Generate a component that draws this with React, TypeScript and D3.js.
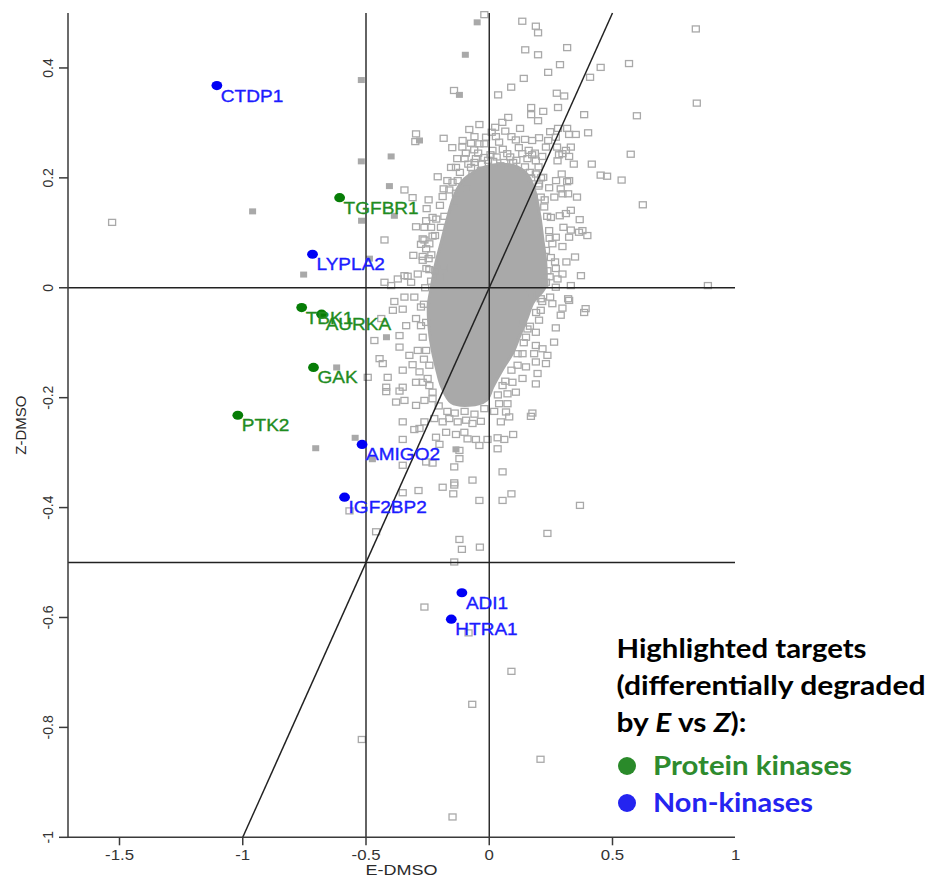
import React from "react";
import * as d3 from "d3";

// ---------- data (E-DMSO, Z-DMSO) ----------
const xTicks = [-1.5, -1, -0.5, 0, 0.5];
const xTickLabels = [
  { v: -1.5, t: "-1.5" },
  { v: -1, t: "-1" },
  { v: -0.5, t: "-0.5" },
  { v: 0, t: "0" },
  { v: 0.5, t: "0.5" },
  { v: 1, t: "1" },
];
const yTicks = [0.4, 0.2, 0, -0.2, -0.4, -0.6, -0.8, -1];
const yTickLabels = ["0.4", "0.2", "0", "-0.2", "-0.4", "-0.6", "-0.8", "-1"];
const hRefs = [0, -0.5];
const vRefs = [-0.5, 0];
const diagonal: [number, number][] = [[-1, -1], [0.5, 0.5]];

const kinases = [
  { name: "TGFBR1", e: -0.607, z: 0.164 },
  { name: "TBK1", e: -0.761, z: -0.036 },
  { name: "AURKA", e: -0.68, z: -0.048 },
  { name: "GAK", e: -0.713, z: -0.145 },
  { name: "PTK2", e: -1.02, z: -0.232 },
];
const nonKinases = [
  { name: "CTDP1", e: -1.105, z: 0.368 },
  { name: "LYPLA2", e: -0.717, z: 0.061 },
  { name: "AMIGO2", e: -0.516, z: -0.285 },
  { name: "IGF2BP2", e: -0.587, z: -0.381 },
  { name: "ADI1", e: -0.111, z: -0.555 },
  { name: "HTRA1", e: -0.154, z: -0.603 },
];

const filledSquares: [number, number][] = [
  [-0.96, 0.139], [-0.753, 0.024], [-0.519, 0.378], [-0.519, 0.23], [-0.398, 0.239],
  [-0.405, 0.185], [-0.385, 0.131], [-0.518, 0.122], [-0.486, 0.053], [-0.121, 0.351],
  [-0.097, 0.424], [-0.049, 0.483], [-0.283, 0.268], [-0.417, -0.09], [-0.619, -0.145],
  [-0.544, -0.273], [-0.704, -0.292], [-0.474, -0.312], [-0.135, -0.294],
];

// outline of the saturated centre of the point cloud
const denseCore: [number, number][] = [
  [-0.081, 0.205], [0.0, 0.222], [0.101, 0.222], [0.154, 0.206], [0.185, 0.176],
  [0.205, 0.131], [0.218, 0.086], [0.23, 0.041], [0.226, 0.001], [0.178, -0.027],
  [0.153, -0.056], [0.124, -0.087], [0.096, -0.118], [0.056, -0.147], [0.015, -0.18],
  [-0.012, -0.205], [-0.081, -0.214], [-0.154, -0.209], [-0.193, -0.18], [-0.214, -0.147],
  [-0.231, -0.114], [-0.243, -0.078], [-0.247, -0.032], [-0.235, 0.001], [-0.219, 0.041],
  [-0.198, 0.077], [-0.174, 0.119], [-0.146, 0.163], [-0.116, 0.19],
];

// squares crowding the rim of the saturated centre
const rimSquares: [number, number][] = [
  [-0.1, 0.235], [-0.085, 0.225], [-0.06, 0.228], [-0.045, 0.245], [-0.03, 0.225], [-0.005, 0.232],
  [0.005, 0.242], [0.03, 0.238], [0.045, 0.222], [0.055, 0.252], [0.085, 0.238], [0.11, 0.232],
  [0.12, 0.255], [0.145, 0.22], [0.16, 0.25], [0.165, 0.21], [0.185, 0.245], [0.2, 0.22],
  [0.21, 0.2], [-0.02, 0.262], [0.01, 0.283], [0.04, 0.265], [0.065, 0.285], [0.09, 0.275],
  [0.125, 0.29], [0.145, 0.27], [-0.06, 0.275], [-0.095, 0.245], [-0.13, 0.235], [-0.17, 0.195],
  [-0.185, 0.18], [-0.2, 0.15], [-0.215, 0.125], [-0.22, 0.095], [-0.235, 0.06], [-0.255, 0.035],
  [-0.26, 0.0], [-0.265, -0.03], [-0.27, -0.09], [-0.265, -0.13], [-0.25, -0.165], [-0.23, -0.19],
  [-0.205, -0.215], [-0.17, -0.225], [-0.14, -0.228], [-0.1, -0.225], [-0.06, -0.23], [-0.02, -0.22],
  [0.02, -0.225], [0.035, -0.195], [0.065, -0.17], [0.09, -0.15], [0.115, -0.12], [0.14, -0.1],
  [0.165, -0.07], [0.19, -0.045], [0.215, -0.025], [0.245, 0.02], [0.25, 0.055], [0.245, 0.09],
  [0.235, 0.13], [0.225, 0.16], [0.2, 0.185], [0.17, 0.2],
];

const openSquares: [number, number][] = [
  [-0.02, 0.497], [0.134, 0.485], [0.189, 0.476], [0.198, 0.464], [0.838, 0.471], [0.146, 0.433],
  [0.198, 0.424], [0.316, 0.437], [0.287, 0.406], [0.239, 0.392], [0.452, 0.401], [0.567, 0.408],
  [0.409, 0.383], [0.14, 0.381], [0.089, 0.365], [0.036, 0.351], [0.274, 0.354], [0.304, 0.349],
  [0.842, 0.336], [-0.143, 0.359], [0.17, 0.328], [0.219, 0.321], [0.279, 0.328], [0.17, 0.315],
  [0.198, 0.304], [0.385, 0.315], [0.599, 0.313], [0.077, 0.31], [0.053, 0.301], [0.024, 0.292],
  [-0.04, 0.297], [-0.081, 0.288], [0.247, 0.284], [0.279, 0.29], [0.316, 0.29], [0.351, 0.279],
  [0.401, 0.282], [0.574, 0.243], [0.416, 0.225], [0.343, 0.225], [0.452, 0.205], [0.478, 0.203],
  [0.537, 0.196], [0.623, 0.151], [0.887, 0.004], [0.108, 0.269], [0.027, 0.275], [-0.013, 0.274],
  [0.174, 0.268], [0.202, 0.273], [0.239, 0.268], [0.275, 0.256], [0.331, 0.256], [0.311, 0.25],
  [0.324, 0.239], [0.277, 0.231], [0.073, 0.244], [0.097, 0.228], [0.134, 0.244], [0.174, 0.242],
  [0.215, 0.239], [0.283, 0.242], [-0.054, 0.235], [-0.109, 0.256], [-0.15, 0.255], [-0.061, 0.251],
  [-0.02, 0.237], [-0.135, 0.219], [-0.119, 0.21], [-0.074, 0.219], [0.189, 0.207], [0.219, 0.201],
  [0.294, 0.207], [0.271, 0.195], [0.316, 0.193], [0.243, 0.182], [0.29, 0.18], [0.32, 0.171],
  [0.356, 0.165], [0.264, 0.165], [0.209, 0.165], [0.223, 0.147], [0.311, 0.135], [0.25, 0.128],
  [0.367, 0.124], [0.378, 0.104], [0.398, 0.095], [0.301, 0.11], [0.324, 0.092], [0.348, 0.056],
  [0.313, 0.047], [0.372, 0.022], [0.267, 0.047], [0.27, 0.035], [0.277, 0.016], [0.331, 0.004],
  [0.23, 0.01], [0.27, 0.001], [0.32, -0.02], [0.247, -0.017],
  [-0.297, 0.28], [-0.3, 0.266], [-0.185, 0.272], [-0.108, 0.268], [-0.074, 0.263], [-0.04, 0.262],
  [0.013, 0.25], [0.27, 0.274], [0.324, 0.279], [0.23, 0.256], [-0.209, 0.202], [-0.155, 0.219],
  [-0.034, 0.213], [0.016, 0.23], [0.061, 0.228], [0.155, 0.235], [0.189, 0.231], [0.297, 0.244],
  [-0.344, 0.178], [-0.311, 0.164], [-0.246, 0.16], [-0.189, 0.166], [-0.162, 0.178], [-0.128, 0.195],
  [-0.092, 0.18], [-0.254, 0.144], [-0.182, 0.13], [-0.142, 0.144], [-0.23, 0.128], [-0.297, 0.111],
  [-0.263, 0.11], [-0.23, 0.094], [-0.196, 0.11], [-0.27, 0.089], [-0.243, 0.08], [-0.277, 0.079],
  [-0.308, 0.059], [-0.27, 0.05], [-0.243, 0.033], [-0.29, 0.025], [-0.344, 0.022], [-0.317, 0.01],
  [-0.236, 0.012], [-0.202, 0.019], [0.202, 0.189], [0.324, 0.195], [0.297, 0.171], [0.331, 0.141],
  [0.286, 0.131], [0.331, 0.105], [0.364, 0.101], [0.243, 0.104], [0.27, 0.092], [0.256, 0.08],
  [0.297, 0.075], [0.23, 0.068], [0.236, 0.031], [0.297, 0.025],
  [-0.385, -0.025], [-0.344, -0.017], [-0.304, -0.017], [-0.351, -0.039], [-0.391, -0.041],
  [-0.277, -0.035], [-0.297, -0.056], [-0.337, -0.069], [-0.277, -0.069], [-0.256, -0.063],
  [-0.364, -0.087], [-0.364, -0.108], [-0.324, -0.123], [-0.29, -0.114], [-0.256, -0.114],
  [-0.432, -0.138], [-0.351, -0.15], [-0.311, -0.14], [-0.283, -0.153], [-0.243, -0.141],
  [-0.27, -0.172], [-0.418, -0.181], [-0.418, -0.189], [-0.351, -0.181], [-0.297, -0.172],
  [-0.243, -0.178], [-0.378, -0.208], [-0.344, -0.205], [-0.297, -0.214], [-0.263, -0.205],
  [-0.23, -0.202], [-0.351, -0.244], [-0.304, -0.258], [-0.263, -0.244], [-0.223, -0.238],
  [-0.189, -0.244], [-0.162, -0.238], [-0.128, -0.244], [-0.094, -0.241], [-0.068, -0.247],
  [-0.034, -0.243], [-0.351, -0.276], [-0.202, -0.285], [-0.175, -0.263], [-0.135, -0.267],
  [-0.101, -0.263], [-0.088, -0.275], [-0.054, -0.276], [-0.04, -0.287], [-0.007, -0.276],
  [-0.121, -0.311], [-0.142, -0.326], [-0.256, -0.317], [-0.351, -0.323], [-0.068, -0.35],
  [-0.142, -0.355], [0.034, -0.293], [0.054, -0.335], [0.034, -0.273], [0.061, -0.276],
  [0.097, -0.267], [0.047, -0.244], [0.081, -0.235], [0.068, -0.226], [0.04, -0.211],
  [0.074, -0.211], [0.108, -0.19], [0.074, -0.193], [0.054, -0.178], [0.094, -0.172],
  [0.135, -0.165], [0.189, -0.175], [0.149, -0.144], [0.196, -0.156], [0.115, -0.141],
  [0.189, -0.135], [0.23, -0.138], [0.135, -0.12], [0.182, -0.12], [0.236, -0.123],
  [0.216, -0.111], [0.189, -0.105], [0.263, -0.099], [0.149, -0.09], [0.189, -0.081],
  [0.202, -0.059], [0.27, -0.073], [0.209, -0.041], [0.256, -0.029], [0.297, -0.037],
  [0.29, -0.05], [0.324, -0.023], [0.391, -0.038], [0.385, -0.045], [0.169, -0.014],
  [0.209, -0.02], [0.135, -0.063], [0.155, -0.075],
  [-0.466, -0.096], [-0.445, -0.129], [-0.493, -0.163], [-0.121, -0.296], [-0.23, -0.319],
  [-0.142, -0.359], [-0.189, -0.363], [-0.146, -0.375], [-0.287, -0.369], [-0.351, -0.373],
  [-0.04, -0.387], [0.054, -0.387], [0.09, -0.375], [0.368, -0.396], [0.236, -0.447],
  [-0.121, -0.458], [-0.111, -0.476], [-0.038, -0.472], [-0.142, -0.499], [-0.459, -0.444],
  [-0.567, -0.406], [0.175, -0.228], [0.169, -0.234], [0.223, 0.007],
  [-0.263, -0.581], [-0.084, -0.628], [0.09, -0.698], [-0.069, -0.758], [-0.517, -0.822],
  [0.208, -0.858], [-0.149, -0.963],
  [-0.256, 0.122], [-0.425, 0.087], [-0.371, 0.016], [-0.425, 0.01], [-0.438, -0.056],
  [-0.412, -0.163], [-0.364, -0.188], [-0.283, -0.256], [-0.216, -0.272],
  [-0.068, 0.207], [-0.135, 0.172], [-0.149, 0.192], [-0.236, 0.11], [-0.263, 0.087],
  [-0.256, 0.071], [-0.27, 0.057], [-0.246, 0.053], [-0.331, 0.021], [-0.398, 0.004],
  [-0.219, 0.031], [-0.186, 0.037],
  [-1.53, 0.119],
];

const legendLines = ["Highlighted targets", "(differentially degraded"];

// ---------- layout ----------
const W = 932;
const H = 879;
const plotLeft = 68;
const plotRight = 735;
const plotTop = 13;
const plotBottom = 837.3;

const GRAY = "#a9a9a9";
const AXIS = "#3a3a3a";
const GREEN_DOT = "#067d06";
const GREEN_TXT = "#1f8c1f";
const BLUE_DOT = "#0000f5";
const BLUE_TXT = "#1c1cff";
const SANS = "'Liberation Sans', Arial, sans-serif";

export default function App() {
  const x = d3.scaleLinear().domain([-1.5, 0.5]).range([119.5, 612.5]);
  const y = d3.scaleLinear().domain([-1, 0.5]).range([plotBottom, plotTop]);
  const corePath =
    d3
      .line<[number, number]>()
      .x((d) => x(d[0]))
      .y((d) => y(d[1]))
      .curve(d3.curveCatmullRomClosed.alpha(0.5))(denseCore) || "";
  const diagPath =
    d3
      .line<[number, number]>()
      .x((d) => x(d[0]))
      .y((d) => y(d[1]))(diagonal) || "";

  const sqW = 7;
  const sqH = 6;

  const openSq = (d: [number, number], key: string) => (
    <rect
      key={key}
      x={x(d[0]) - sqW / 2}
      y={y(d[1]) - sqH / 2}
      width={sqW}
      height={sqH}
      fill="none"
      stroke={GRAY}
      strokeWidth={1.3}
    />
  );

  const label = (p: { name: string; e: number; z: number }, color: string) => (
    <text
      key={"l" + p.name}
      transform={`translate(${x(p.e) + 4},${y(p.z) + 16}) scale(1.12,1)`}
      fontFamily={SANS}
      fontSize={17}
      fill={color}
      stroke={color}
      strokeWidth={0.35}
    >
      {p.name}
    </text>
  );

  return (
    <svg
      width={W}
      height={H}
      style={{ position: "absolute", left: 0, top: 0, background: "#fff" }}
    >
      <rect x={0} y={0} width={W} height={H} fill="#fff" />
      {/* dense core */}
      <path d={corePath} fill={GRAY} stroke={GRAY} strokeWidth={3} strokeLinejoin="round" />
      {rimSquares.map((d, i) => openSq(d, "r" + i))}
      {openSquares.map((d, i) => openSq(d, "o" + i))}
      {filledSquares.map((d, i) => (
        <rect
          key={"f" + i}
          x={x(d[0]) - sqW / 2}
          y={y(d[1]) - sqH / 2}
          width={sqW}
          height={sqH}
          fill={GRAY}
        />
      ))}

      {/* reference lines */}
      {hRefs.map((v) => (
        <line key={"h" + v} x1={plotLeft} x2={plotRight} y1={y(v)} y2={y(v)} stroke="#222" strokeWidth={1.4} />
      ))}
      {vRefs.map((v) => (
        <line key={"v" + v} x1={x(v)} x2={x(v)} y1={plotTop} y2={plotBottom} stroke="#222" strokeWidth={1.4} />
      ))}
      <path d={diagPath} stroke="#222" strokeWidth={1.5} fill="none" />

      {/* axes */}
      <line x1={plotLeft} x2={plotLeft} y1={plotTop} y2={plotBottom} stroke={AXIS} strokeWidth={1.5} />
      <line x1={plotLeft} x2={plotRight} y1={plotBottom} y2={plotBottom} stroke={AXIS} strokeWidth={1.5} />
      {xTicks.map((v) => (
        <line key={"xt" + v} x1={x(v)} x2={x(v)} y1={plotBottom} y2={plotBottom + 8} stroke={AXIS} strokeWidth={1.5} />
      ))}
      {xTickLabels.map((d) => (
        <text
          key={"xl" + d.t}
          transform={`translate(${x(d.v)},860) scale(1.2,1)`}
          textAnchor="middle"
          fontFamily={SANS}
          fontSize={14}
          fill="#333"
        >
          {d.t}
        </text>
      ))}
      {yTicks.map((v, i) => (
        <g key={"yt" + v}>
          <line x1={plotLeft - 9} x2={plotLeft} y1={y(v)} y2={y(v)} stroke={AXIS} strokeWidth={1.5} />
          <text
            transform={`translate(53,${y(v)}) rotate(-90)`}
            textAnchor="middle"
            fontFamily={SANS}
            fontSize={14}
            fill="#333"
          >
            {yTickLabels[i]}
          </text>
        </g>
      ))}
      <text
        transform={`translate(${(plotLeft + plotRight) / 2},875) scale(1.2,1)`}
        textAnchor="middle"
        fontFamily={SANS}
        fontSize={15}
        fill="#2a2a2a"
      >
        E-DMSO
      </text>
      <text
        transform={`translate(26,${(plotTop + plotBottom) / 2}) rotate(-90)`}
        textAnchor="middle"
        fontFamily={SANS}
        fontSize={15}
        fill="#2a2a2a"
      >
        Z-DMSO
      </text>

      {/* highlighted targets */}
      {kinases.map((p) => (
        <ellipse key={"k" + p.name} cx={x(p.e)} cy={y(p.z)} rx={5.4} ry={4.6} fill={GREEN_DOT} />
      ))}
      {nonKinases.map((p) => (
        <ellipse key={"n" + p.name} cx={x(p.e)} cy={y(p.z)} rx={5.4} ry={4.6} fill={BLUE_DOT} />
      ))}
      {kinases.map((p) => label(p, GREEN_TXT))}
      {nonKinases.map((p) => label(p, BLUE_TXT))}

      {/* legend */}
      <g fontFamily="Lato, 'Open Sans', sans-serif" fontWeight="bold" fontSize={27}>
        <text x={616.5} y={658} fill="#000" textLength={250} lengthAdjust="spacingAndGlyphs">
          {legendLines[0]}
        </text>
        <text x={616.5} y={695} fill="#000" textLength={309} lengthAdjust="spacingAndGlyphs">
          {legendLines[1]}
        </text>
        <text x={616.5} y={732} fill="#000" textLength={130} lengthAdjust="spacingAndGlyphs">
          by <tspan fontStyle="italic">E</tspan> vs <tspan fontStyle="italic">Z</tspan>):
        </text>
        <circle cx={627} cy={766} r={9} fill="#2a8a2a" />
        <text x={653} y={775} fill="#2e8b2e" textLength={199} lengthAdjust="spacingAndGlyphs">
          Protein kinases
        </text>
        <circle cx={627} cy={803} r={9} fill="#2424f0" />
        <text x={653} y={812} fill="#2424f0" textLength={160} lengthAdjust="spacingAndGlyphs">
          Non-kinases
        </text>
      </g>
    </svg>
  );
}
